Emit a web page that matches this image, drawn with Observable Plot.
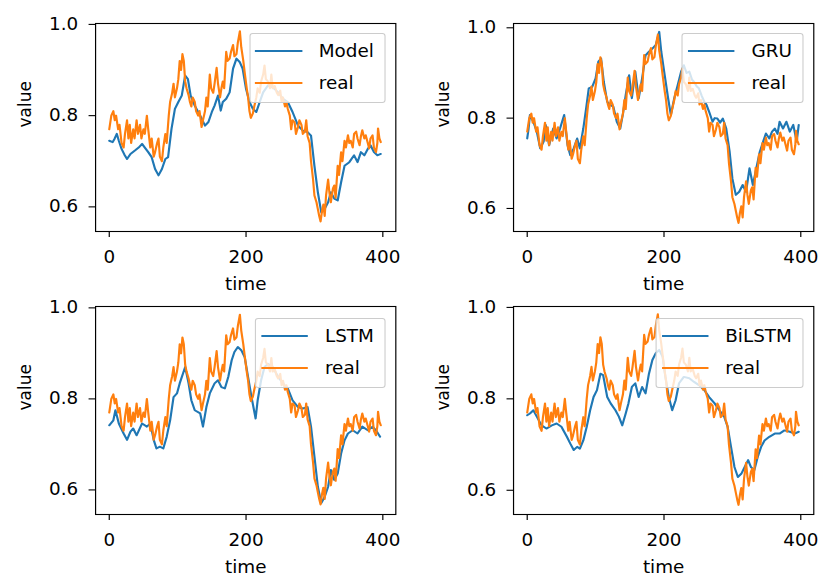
<!DOCTYPE html>
<html>
<head>
<meta charset="utf-8">
<script src="https://cdn.jsdelivr.net/npm/d3@7"></script>
<script src="https://cdn.jsdelivr.net/npm/@observablehq/plot@0.6"></script>
<style>
  html, body { margin: 0; padding: 0; background: #fff; overflow: hidden; }
  #wrap { position: relative; width: 758px; height: 578px; transform: scaleX(1.08); transform-origin: 0 0; font-family: "DejaVu Sans", sans-serif; }
  .panel { position: absolute; width: 380px; height: 289px; }
  .legend { position: absolute; right: 23.3px; background: rgba(255,255,255,0.8); border: 1px solid #cccccc; border-radius: 3px; padding: 1px 9.5px 3px 4.6px; }
  .row { display: flex; align-items: center; height: 32px; font-size: 17px; color: #000; white-space: nowrap; }
  .handle { width: 43.5px; height: 0; border-top: 2px solid; margin-right: 15.5px; }
</style>
</head>
<body>
<div id="wrap"></div>
<script>
// time axis ticks and value axis ticks
const xTicks = [0, 200, 400];
const yTicks = [0.6, 0.8, 1.0];
const panelNames = ["Model", "GRU", "LSTM", "BiLSTM"];
const realName = "real";

// real series: [time, value]
const realSeries = [[0,.77],[3,.80],[6,.81],[8,.79],[10,.80],[13,.77],[15,.78],[18,.74],[21,.73],[23,.76],[26,.79],[28,.75],[30,.78],[32,.74],[35,.77],[37,.75],[40,.79],[42,.76],[45,.78],[47,.75],[50,.77],[52,.76],[55,.80],[57,.77],[60,.73],[62,.75],[65,.71],[67,.72],[70,.74],[72,.75],[74,.71],[77,.70],[79,.73],[82,.76],[84,.74],[87,.80],[89,.83],[92,.85],[94,.87],[96,.84],[99,.86],[101,.88],[103,.92],[105,.90],[107,.935],[109,.92],[111,.875],[113,.86],[116,.845],[118,.83],[120,.82],[122,.84],[125,.83],[127,.81],[130,.80],[132,.81],[135,.775],[137,.79],[140,.81],[142,.84],[144,.82],[147,.89],[149,.86],[152,.85],[154,.87],[157,.905],[159,.87],[162,.84],[164,.86],[166,.875],[168,.86],[171,.94],[173,.92],[176,.925],[178,.94],[181,.955],[183,.93],[186,.935],[188,.96],[191,.985],[193,.95],[196,.92],[198,.895],[201,.86],[203,.84],[205,.81],[207,.795],[210,.805],[212,.82],[215,.84],[217,.86],[220,.85],[222,.875],[225,.89],[227,.91],[229,.88],[232,.875],[235,.86],[237,.89],[239,.86],[242,.865],[245,.85],[247,.845],[250,.855],[252,.83],[254,.84],[257,.82],[259,.83],[261,.815],[264,.80],[266,.77],[268,.79],[271,.785],[273,.76],[276,.775],[278,.79],[281,.78],[283,.76],[286,.765],[288,.79],[290,.755],[293,.74],[295,.70],[298,.66],[300,.625],[303,.61],[305,.595],[307,.58],[309,.568],[311,.59],[313,.605],[315,.58],[317,.625],[320,.66],[322,.63],[324,.61],[327,.64],[329,.647],[331,.62],[334,.69],[336,.67],[339,.72],[341,.70],[344,.745],[346,.73],[349,.757],[351,.74],[353,.745],[356,.73],[358,.76],[361,.765],[363,.75],[366,.735],[368,.755],[370,.768],[373,.75],[375,.757],[378,.74],[380,.728],[382,.75],[385,.757],[387,.73],[390,.72],[392,.74],[393,.772],[395,.75],[397,.742]];

// model predictions: [time, value]
const modelSeries = [[0,.745],[5,.742],[8,.75],[11,.76],[14,.745],[18,.727],[22,.715],[26,.705],[31,.716],[38,.724],[43,.73],[48,.738],[52,.73],[57,.72],[62,.709],[67,.683],[72,.669],[77,.683],[82,.705],[86,.709],[91,.771],[96,.815],[101,.83],[106,.844],[111,.888],[115,.88],[119,.844],[125,.822],[133,.80],[140,.778],[145,.786],[150,.808],[154,.822],[159,.844],[163,.811],[166,.83],[171,.837],[176,.851],[181,.903],[186,.925],[191,.917],[195,.903],[200,.859],[205,.83],[210,.815],[215,.808],[220,.83],[225,.851],[232,.866],[239,.862],[247,.851],[254,.837],[261,.83],[268,.808],[276,.778],[283,.767],[290,.764],[295,.756],[300,.69],[305,.632],[310,.588],[315,.596],[320,.61],[324,.632],[329,.618],[334,.614],[339,.654],[344,.69],[351,.698],[358,.713],[363,.698],[368,.72],[373,.713],[378,.727],[382,.735],[387,.72],[392,.713],[397,.716]];

const gruSeries = [[0,.755],[2,.777],[4,.807],[9,.792],[14,.77],[19,.733],[24,.748],[27,.785],[32,.74],[38,.777],[43,.755],[48,.777],[54,.807],[59,.74],[63,.718],[68,.733],[73,.755],[77,.733],[82,.777],[86,.82],[90,.866],[95,.869],[100,.888],[104,.925],[108,.932],[112,.88],[117,.836],[122,.829],[126,.825],[131,.792],[136,.777],[140,.81],[144,.851],[149,.895],[153,.844],[158,.903],[163,.844],[168,.888],[173,.939],[178,.947],[183,.954],[188,.962],[193,.991],[196,.947],[201,.895],[206,.844],[210,.807],[215,.844],[220,.873],[225,.903],[229,.917],[233,.90],[237,.903],[241,.885],[244,.88],[248,.87],[251,.866],[255,.85],[259,.836],[262,.83],[266,.814],[271,.792],[274,.80],[278,.799],[282,.79],[286,.799],[291,.777],[296,.725],[300,.666],[305,.63],[310,.637],[315,.652],[320,.637],[325,.689],[330,.652],[335,.689],[340,.725],[345,.748],[349,.766],[354,.755],[358,.77],[362,.777],[366,.765],[369,.792],[374,.777],[379,.792],[384,.77],[389,.785],[394,.748],[397,.785]];

const lstmSeries = [[0,.742],[6,.753],[9,.775],[14,.746],[21,.724],[26,.71],[31,.728],[35,.735],[40,.72],[48,.746],[55,.739],[60,.746],[65,.71],[69,.691],[74,.695],[79,.691],[84,.717],[89,.753],[94,.804],[99,.812],[103,.834],[111,.87],[116,.834],[120,.797],[125,.775],[133,.768],[137,.739],[142,.782],[147,.812],[154,.834],[159,.841],[164,.826],[169,.823],[174,.848],[179,.885],[183,.903],[188,.914],[193,.907],[198,.892],[203,.848],[208,.804],[214,.757],[217,.797],[222,.841],[227,.87],[232,.877],[239,.87],[247,.848],[254,.834],[261,.823],[268,.797],[276,.782],[283,.779],[290,.782],[295,.739],[300,.673],[305,.607],[310,.571],[315,.585],[320,.607],[324,.644],[329,.622],[334,.636],[339,.68],[344,.709],[349,.724],[356,.731],[363,.724],[370,.739],[378,.731],[385,.739],[390,.731],[396,.717]];

const bilstmSeries = [[0,.764],[4,.768],[9,.775],[14,.761],[21,.742],[28,.735],[36,.742],[43,.746],[50,.739],[58,.717],[63,.702],[68,.688],[73,.695],[77,.691],[82,.709],[87,.739],[92,.775],[97,.804],[102,.819],[107,.855],[111,.852],[117,.804],[122,.79],[129,.775],[134,.761],[139,.742],[144,.768],[148,.79],[153,.826],[158,.834],[163,.804],[168,.826],[173,.812],[178,.855],[183,.885],[188,.9],[193,.907],[198,.892],[202,.848],[207,.804],[212,.775],[217,.797],[222,.834],[229,.848],[237,.845],[244,.837],[251,.83],[259,.819],[266,.804],[274,.79],[281,.775],[288,.761],[293,.739],[298,.695],[303,.651],[308,.629],[313,.636],[318,.651],[323,.666],[327,.651],[332,.644],[337,.673],[342,.695],[347,.709],[354,.717],[362,.724],[369,.724],[376,.731],[384,.728],[391,.724],[397,.728]];

const predSeries = [modelSeries, gruSeries, lstmSeries, bilstmSeries];
const yDomains = [[0.546, 1.002], [0.549, 1.0095], [0.546, 1.003], [0.547, 1.002]];
const panelPos = [[0, 0], [387, 0], [0, 283], [387, 283]];
const legendTop = [33, 33, 35, 35];

const BLUE = "#1f77b4", ORANGE = "#ff7f0e";
const toRows = s => s.map(([t, v]) => ({t, v}));
const realRows = toRows(realSeries);

const wrap = document.getElementById("wrap");
panelNames.forEach((name, i) => {
  const div = document.createElement("div");
  div.className = "panel";
  div.style.left = panelPos[i][0] + "px";
  div.style.top = panelPos[i][1] + "px";
  const chart = Plot.plot({
    width: 380, height: 289,
    marginLeft: 88, marginRight: 14, marginTop: 23, marginBottom: 58,
    style: {fontFamily: "DejaVu Sans", fontSize: "17px", color: "#000", background: "transparent", overflow: "visible"},
    x: {domain: [-20, 419]},
    y: {domain: yDomains[i]},
    marks: [
      Plot.axisX({ticks: xTicks, tickSize: 6, tickPadding: 13, label: null, tickFormat: d3.format("d"), strokeWidth: 1.1}),
      Plot.axisY({ticks: yTicks, tickSize: 6, tickPadding: 10, label: null, tickFormat: d3.format(".1f"), strokeWidth: 1.1}),
      Plot.line(toRows(predSeries[i]), {x: "t", y: "v", stroke: BLUE, strokeWidth: 2}),
      Plot.line(realRows, {x: "t", y: "v", stroke: ORANGE, strokeWidth: 2}),
      Plot.frame({stroke: "#000", strokeWidth: 1.1}),
      Plot.text(["value"], {frameAnchor: "left", dx: -65, rotate: -90, fill: "#000"}),
      Plot.text(["time"], {frameAnchor: "bottom", dy: 58, fill: "#000"})
    ]
  });
  div.appendChild(chart);
  const lg = document.createElement("div");
  lg.className = "legend";
  lg.style.top = legendTop[i] + "px";
  [[name, BLUE], [realName, ORANGE]].forEach(([label, color]) => {
    const row = document.createElement("div");
    row.className = "row";
    const h = document.createElement("span");
    h.className = "handle";
    h.style.borderTopColor = color;
    const tx = document.createElement("span");
    tx.textContent = label;
    row.appendChild(h);
    row.appendChild(tx);
    lg.appendChild(row);
  });
  div.appendChild(lg);
  wrap.appendChild(div);
});
</script>
</body>
</html>
